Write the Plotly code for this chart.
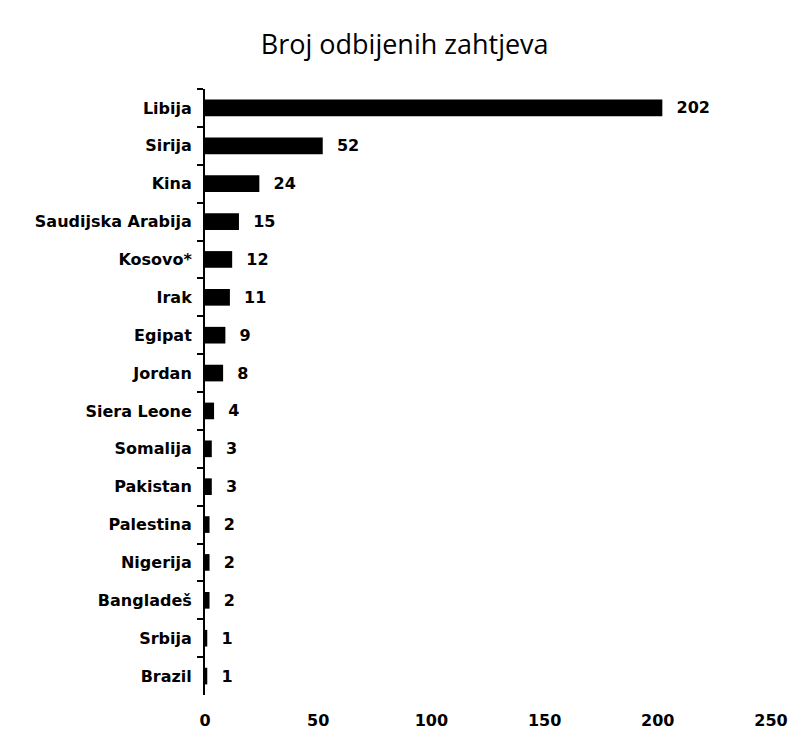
import plotly.graph_objects as go

countries = ["Libija", "Sirija", "Kina", "Saudijska Arabija", "Kosovo*", "Irak", "Egipat",
             "Jordan", "Siera Leone", "Somalija", "Pakistan", "Palestina", "Nigerija",
             "Banglade\u0161", "Srbija", "Brazil"]
values = [202, 52, 24, 15, 12, 11, 9, 8, 4, 3, 3, 2, 2, 2, 1, 1]
x_ticks = [0, 50, 100, 150, 200, 250]

fig = go.Figure(go.Bar(
    x=values, y=countries, orientation="h",
    marker=dict(color="#000000", line=dict(width=0)),
    texttemplate="\u2002\u2009%{x}", textposition="outside", constraintext="none",
    textfont=dict(family="DejaVu Sans", size=16, color="#000000", weight="bold"),
    cliponaxis=False, width=0.44,
))

fig.update_layout(
    width=803, height=739,
    paper_bgcolor="white", plot_bgcolor="white",
    margin=dict(l=197, r=40, t=81, b=52),
    title=dict(text="Broj odbijenih zahtjeva", x=0.494, xanchor="center", y=0.95, yanchor="middle",
               font=dict(family="Open Sans", size=27, color="#000000")),
    showlegend=False,
    xaxis=dict(range=[0, 250], tickvals=x_ticks, showgrid=False, zeroline=False,
               showline=False, ticks="", ticklabelstandoff=14,
               tickfont=dict(family="DejaVu Sans", size=16, color="#000000", weight="bold")),
    yaxis=dict(autorange="reversed", showline=True, linecolor="#000000", linewidth=2,
               ticks="outside", tickson="boundaries", ticklen=6, tickwidth=2, tickcolor="#000000",
               ticklabelstandoff=8, showgrid=False,
               tickfont=dict(family="DejaVu Sans", size=16, color="#000000", weight="bold")),
)

fig.write_html("out.html")
